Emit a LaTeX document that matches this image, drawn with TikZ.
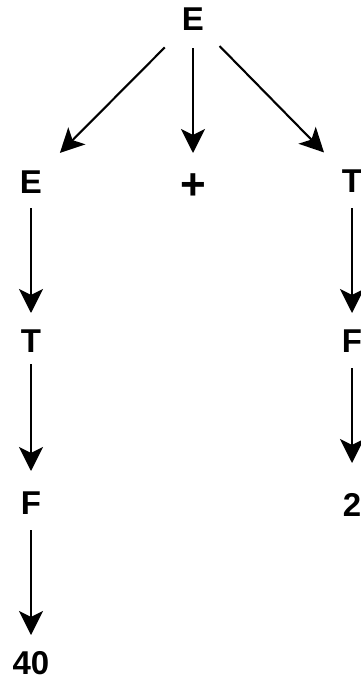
\documentclass[tikz,border=0pt]{standalone}
\usepackage{fontspec}
\setmainfont{Liberation Sans}
\usetikzlibrary{arrows.meta}
\begin{document}
\begin{tikzpicture}[x=1pt,y=-1pt,
  sym/.style={inner sep=0pt,font=\fontsize{33}{33}\selectfont\bfseries},
  edge/.style={line width=2.1pt,-{Stealth[length=24pt,width=24pt,inset=6pt]}}]
\useasboundingbox (0,0) rectangle (361,680);
% parse tree nodes
\node[sym] (e0) at (193,19) {E};
\node[sym] (e1) at (31,182) {E};
\node[sym,font=\fontsize{44}{44}\selectfont\bfseries] (pl) at (193,187) {+};
\node[sym] (t1) at (352,181) {T};
\node[sym] (t2) at (31,341) {T};
\node[sym] (f2) at (352,341) {F};
\node[sym] (f3) at (31,503) {F};
\node[sym] (n2) at (352,505) {2};
\node[sym] (n40) at (31,663) {40};
% derivation edges
\draw[edge,shorten <=40pt,shorten >=41pt] (e0.center) -- (e1.center);
\draw[edge,shorten <=29pt,shorten >=34pt] (e0.center) -- (pl.center);
\draw[edge,shorten <=38pt,shorten >=40pt] (e0.center) -- (t1.center);
\draw[edge,shorten <=26pt,shorten >=28pt] (e1.center) -- (t2.center);
\draw[edge,shorten <=23pt,shorten >=32pt] (t2.center) -- (f3.center);
\draw[edge,shorten <=27pt,shorten >=28pt] (f3.center) -- (n40.center);
\draw[edge,shorten <=27pt,shorten >=28pt] (t1.center) -- (f2.center);
\draw[edge,shorten <=27pt,shorten >=42pt] (f2.center) -- (n2.center);
\end{tikzpicture}
\end{document}
